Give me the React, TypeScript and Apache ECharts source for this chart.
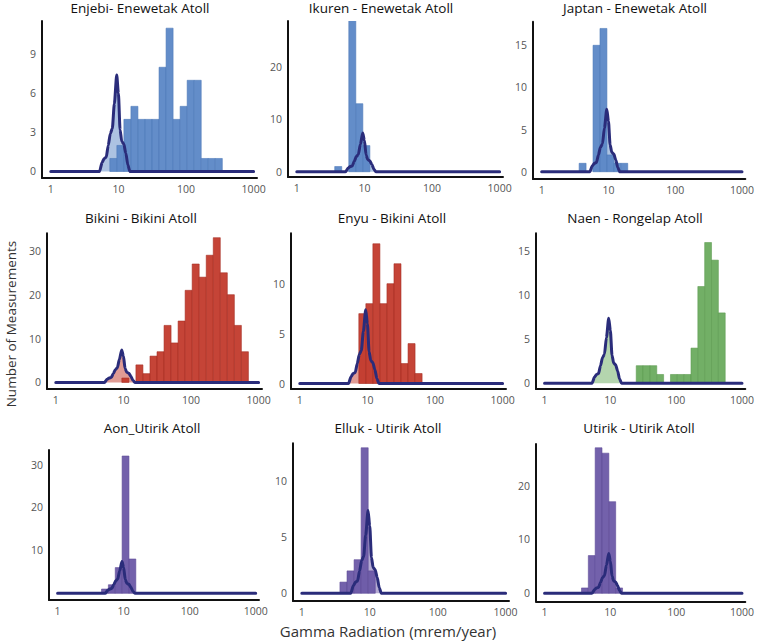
import React, { useEffect, useRef } from "react";
import * as echarts from "echarts";

// ---------- data ----------
const PANEL_TITLES = [
  "Enjebi- Enewetak Atoll",
  "Ikuren - Enewetak Atoll",
  "Japtan - Enewetak Atoll",
  "Bikini - Bikini Atoll",
  "Enyu - Bikini Atoll",
  "Naen - Rongelap Atoll",
  "Aon_Utirik Atoll",
  "Elluk - Utirik Atoll",
  "Utirik - Utirik Atoll",
];

// histogram bins on log10(mrem/year): left edge of bin k = BIN_ORIGIN + k * BIN_WIDTH
const BIN_ORIGIN = 0.873;
const BIN_WIDTH = 0.104;

const FIRST_BIN = [0, -3, -3, 1, 0, 5, -2, -3, -3];
const COUNTS_ENJEBI = [1, 2, 4, 5, 4, 4, 4, 8, 11, 4, 5, 7, 7, 1, 1, 1];
const COUNTS_IKUREN = [1, 0, 29, 13, 5];
const COUNTS_JAPTAN = [1, 0, 15, 17, 2, 1, 1];
const COUNTS_BIKINI = [1, 0, 4, 2, 6, 7, 13, 9, 14, 21, 27, 24, 29, 33, 25, 20, 13, 7];
const COUNTS_ENYU = [7, 8, 14, 8, 10, 12, 2, 4, 1];
const COUNTS_NAEN = [2, 2, 2, 1, 0, 1, 1, 1, 4, 11, 16, 14, 8];
const COUNTS_AON = [1, 2, 6, 32, 8];
const COUNTS_ELLUK = [1, 2, 3, 13, 2];
const COUNTS_UTIRIK = [1, 7, 27, 26, 17, 1];
const COUNTS = [
  COUNTS_ENJEBI, COUNTS_IKUREN, COUNTS_JAPTAN,
  COUNTS_BIKINI, COUNTS_ENYU, COUNTS_NAEN,
  COUNTS_AON, COUNTS_ELLUK, COUNTS_UTIRIK,
];

// reference density curve (same in every panel), x in log10(mrem/year)
const DENSITY_LOGX = [0, 0.72, 0.76, 0.79, 0.82, 0.85, 0.88, 0.91, 0.94, 0.975, 1.0, 1.025, 1.05, 1.08, 1.11, 1.14, 1.17, 3];
const DENSITY_Y = [0, 0, 0.7, 1.0, 1.1, 2.0, 2.9, 3.3, 5.2, 7.4, 6.0, 3.2, 2.3, 2.1, 1.4, 0.5, 0, 0];

const X_TICKS = [0, 1, 2, 3]; // log10 of 1, 10, 100, 1000
const Y_TICKS = [
  [0, 3, 6, 9], [0, 10, 20], [0, 5, 10, 15],
  [0, 10, 20, 30], [0, 5, 10], [0, 5, 10, 15],
  [10, 20, 30], [0, 5, 10], [0, 10, 20],
];
const Y_RANGE = [
  [-0.5, 11.55], [-1.0, 28.8], [-0.86, 17.8],
  [-1.5, 34.0], [-0.55, 15.05], [-0.65, 17.05],
  [-1.56, 33.4], [-0.69, 13.4], [-1.48, 27.7],
];
const X_RANGE = [-0.13, 3.05];

// ---------- styling / layout ----------
const PALETTE = [
  { fill: "#5b87c6", stroke: "#4d79b8" },
  { fill: "#c23a2c", stroke: "#a52d21" },
  { fill: "#6aab5e", stroke: "#5c9a50" },
  { fill: "#6b58a6", stroke: "#5d4a97" },
];
const PANEL_COLOR = [0, 0, 0, 1, 1, 2, 3, 3, 3];
const GRID_BOX = [
  // left, top, width, bottom
  [42, 21, 215, 178],
  [288, 21, 215, 177],
  [533, 21.7, 213, 179],
  [47, 233.3, 215, 389],
  [291, 233.3, 215, 389],
  [536, 233.3, 214, 389],
  [49, 450, 210, 600],
  [293, 443.3, 216, 601],
  [536, 444, 213, 601.3],
];
const TITLE_POS = [
  [140, 1], [381, 1], [635, 1],
  [141, 211], [392, 211], [635, 211],
  [152, 421], [388, 421], [639, 421],
];
const LINE_COLOR = "#2a2c7a";
const FONT = "'Open Sans', 'Noto Sans', sans-serif";

function buildOption() {
  const grid: any[] = [];
  const xAxis: any[] = [];
  const yAxis: any[] = [];
  const series: any[] = [];
  const title: any[] = [];

  const density = DENSITY_LOGX.map((x, i) => [x, DENSITY_Y[i]]);

  for (let p = 0; p < 9; p++) {
    const [left, top, width, bottom] = GRID_BOX[p];
    grid.push({ left, top, width, height: bottom - top });
    xAxis.push({
      gridIndex: p,
      type: "value",
      min: X_RANGE[0],
      max: X_RANGE[1],
      axisLine: { show: true, onZero: false, lineStyle: { color: "#111", width: 2 } },
      axisTick: { show: false },
      splitLine: { show: false },
      axisLabel: {
        customValues: X_TICKS,
        formatter: (v: number) => String(Math.round(Math.pow(10, v))),
        color: "#555",
        fontSize: 10.5,
        fontFamily: FONT,
        margin: 5,
      },
    });
    yAxis.push({
      gridIndex: p,
      type: "value",
      min: Y_RANGE[p][0],
      max: Y_RANGE[p][1],
      axisLine: { show: true, onZero: false, lineStyle: { color: "#111", width: 2 } },
      axisTick: { show: false },
      splitLine: { show: false },
      axisLabel: {
        customValues: Y_TICKS[p],
        color: "#555",
        fontSize: 10.5,
        fontFamily: FONT,
        margin: 6,
      },
    });
    title.push({
      text: PANEL_TITLES[p],
      left: TITLE_POS[p][0],
      top: TITLE_POS[p][1],
      textAlign: "center",
      padding: 0,
      textStyle: { fontSize: 13.5, fontWeight: "normal", color: "#111", fontFamily: FONT },
    });

    const col = PALETTE[PANEL_COLOR[p]];
    // density area (under bars)
    series.push({
      type: "line",
      xAxisIndex: p,
      yAxisIndex: p,
      data: density,
      showSymbol: false,
      smooth: 0.25,
      smoothMonotone: "x",
      lineStyle: { width: 0 },
      areaStyle: { color: col.fill, opacity: 0.5 },
      z: 1,
      silent: true,
    });
    // histogram bars
    const bars = COUNTS[p]
      .map((c, i) => {
        const k = FIRST_BIN[p] + i;
        const x0 = BIN_ORIGIN + k * BIN_WIDTH;
        return [x0, x0 + BIN_WIDTH, c];
      })
      .filter((d) => d[2] > 0);
    series.push({
      type: "custom",
      xAxisIndex: p,
      yAxisIndex: p,
      data: bars,
      encode: { x: [0, 1], y: 2 },
      clip: true,
      z: 2,
      renderItem: (params: any, api: any) => {
        const a = api.coord([api.value(0), api.value(2)]);
        const b = api.coord([api.value(1), 0]);
        return {
          type: "rect",
          shape: { x: a[0], y: a[1], width: b[0] - a[0], height: b[1] - a[1] },
          style: { fill: col.fill, stroke: col.stroke, lineWidth: 0.6, opacity: 0.95 },
        };
      },
    });
    // density line
    series.push({
      type: "line",
      xAxisIndex: p,
      yAxisIndex: p,
      data: density,
      showSymbol: false,
      smooth: 0.25,
      smoothMonotone: "x",
      lineStyle: { width: 3, color: LINE_COLOR, cap: "round", join: "round" },
      z: 3,
      silent: true,
    });
  }

  return {
    animation: false,
    backgroundColor: "#fff",
    title,
    grid,
    xAxis,
    yAxis,
    series,
    graphic: [
      {
        type: "text",
        x: 11,
        y: 324,
        rotation: Math.PI / 2,
        style: {
          text: "Number of Measurements",
          fontSize: 13.5,
          fontFamily: FONT,
          fill: "#333",
          align: "center",
          verticalAlign: "middle",
        },
      },
      {
        type: "text",
        x: 388,
        y: 631,
        style: {
          text: "Gamma Radiation (mrem/year)",
          fontSize: 15,
          fontFamily: FONT,
          fill: "#333",
          align: "center",
          verticalAlign: "middle",
        },
      },
    ],
  };
}

export default function App() {
  const ref = useRef<HTMLDivElement>(null);
  useEffect(() => {
    if (!ref.current) return;
    const chart = echarts.init(ref.current, undefined, { renderer: "svg" });
    chart.setOption(buildOption() as any);
    return () => chart.dispose();
  }, []);
  return (
    <div
      ref={ref}
      style={{ position: "absolute", left: 0, top: 0, width: 757, height: 644, background: "#fff" }}
    />
  );
}
